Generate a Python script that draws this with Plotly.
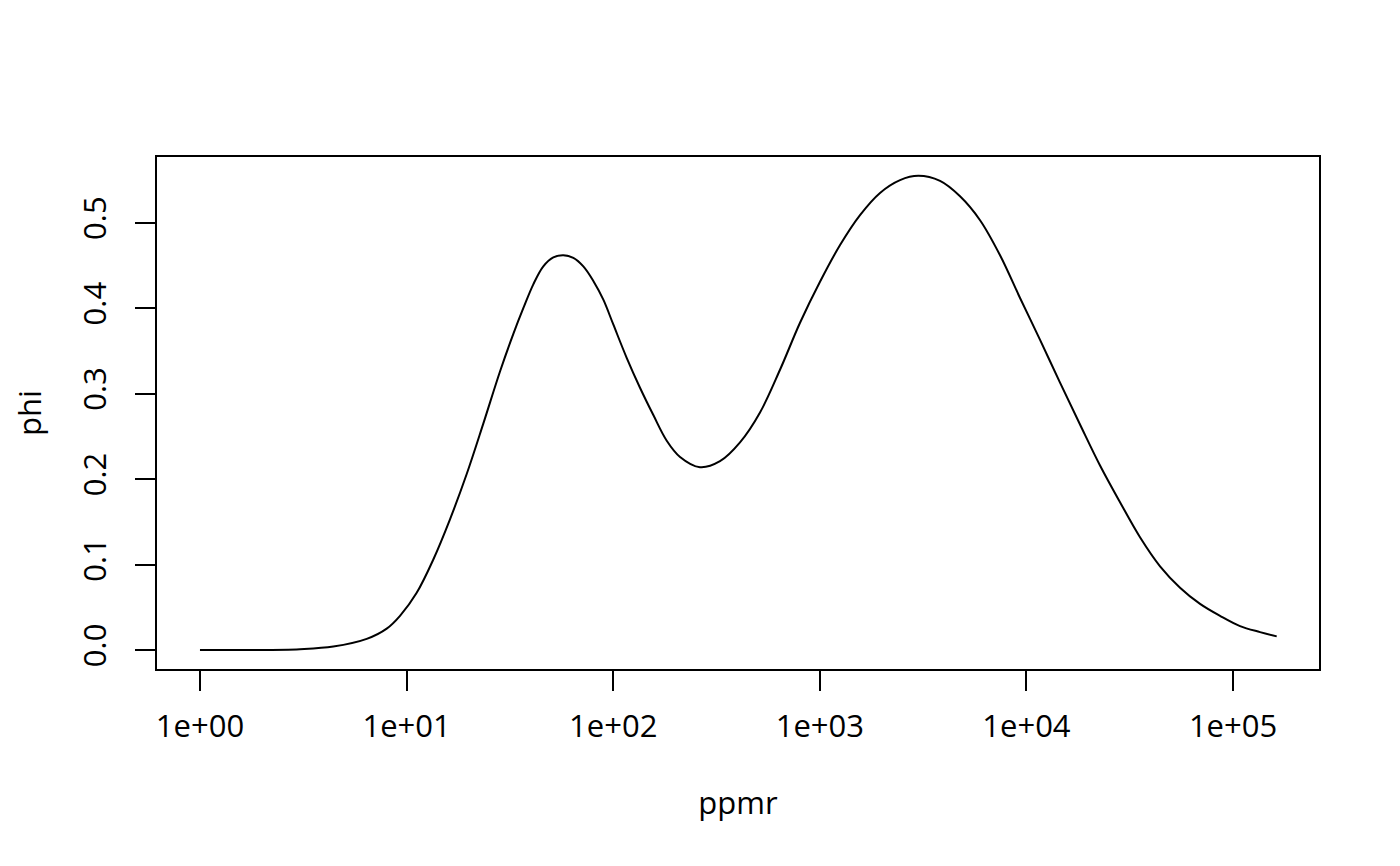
import plotly.graph_objects as go

# values
ppmr = [1, 1.746, 3.048, 4.418, 6.411, 8.012, 9.293, 11.19, 13.47, 16.22, 19.54,
        23.51, 28.32, 32.86, 36.72, 41.05, 45.89, 51.30, 57.35, 64.12, 71.68, 80.13,
        89.58, 100.1, 116.2, 134.8, 156.4, 181.6, 210.6, 263.0, 328.8, 410.9, 513.5,
        641.7, 802.0, 1002, 1253, 1565, 1956, 2445, 2999, 3818, 4771, 5963, 7452,
        9312, 11640, 14540, 18170, 22710, 28380, 35460, 44330, 55390, 69230, 86510,
        108100, 135100, 162700]
phi = [0.0, 0.0, 0.001, 0.004, 0.013, 0.025, 0.040, 0.067, 0.106, 0.153, 0.206,
       0.265, 0.326, 0.370, 0.400, 0.428, 0.449, 0.4595, 0.462, 0.459, 0.449, 0.432,
       0.410, 0.381, 0.342, 0.307, 0.275, 0.245, 0.226, 0.214, 0.221, 0.243, 0.278,
       0.328, 0.383, 0.431, 0.474, 0.509, 0.535, 0.550, 0.555, 0.549, 0.531, 0.503,
       0.462, 0.412, 0.363, 0.313, 0.264, 0.216, 0.173, 0.132, 0.098, 0.073, 0.054,
       0.040, 0.028, 0.021, 0.016]

x_tickvals = [1, 10, 100, 1000, 10000, 100000]
x_ticktext = ["1e+00", "1e+01", "1e+02", "1e+03", "1e+04", "1e+05"]
y_tickvals = [0.0, 0.1, 0.2, 0.3, 0.4, 0.5]
y_ticktext = ["0.0", "0.1", "0.2", "0.3", "0.4", "0.5"]

FONT = "Open Sans"
FS = 31

fig = go.Figure()
fig.add_trace(go.Scatter(
    x=ppmr, y=phi, mode="lines",
    line=dict(color="black", width=2, shape="spline", smoothing=1.0),
    showlegend=False, hoverinfo="skip",
))

fig.update_layout(
    width=1384, height=850,
    paper_bgcolor="white", plot_bgcolor="white",
    margin=dict(l=149, r=73, t=149, b=189),
    font=dict(family=FONT, size=FS, color="black"),
    xaxis=dict(
        type="log", range=[-0.208, 5.416],
        tickvals=x_tickvals, ticktext=x_ticktext,
        ticks="outside", ticklen=20, tickwidth=2, tickcolor="black",
        ticklabelstandoff=9,
        showline=True, mirror=True, linewidth=2, linecolor="black",
        showgrid=False, zeroline=False,
        tickfont=dict(family=FONT, size=FS, color="black"),
        title=dict(text="ppmr", standoff=47, font=dict(family=FONT, size=FS, color="black")),
    ),
    yaxis=dict(
        range=[-0.0222, 0.577],
        tickvals=y_tickvals, ticktext=y_ticktext, tickangle=-90,
        ticks="outside", ticklen=20, tickwidth=2, tickcolor="black",
        ticklabelstandoff=17,
        showline=True, mirror=True, linewidth=2, linecolor="black",
        showgrid=False, zeroline=False,
        tickfont=dict(family=FONT, size=FS, color="black"),
        title=dict(text="phi", standoff=26, font=dict(family=FONT, size=FS, color="black")),
    ),
)

fig.write_html("out.html")
